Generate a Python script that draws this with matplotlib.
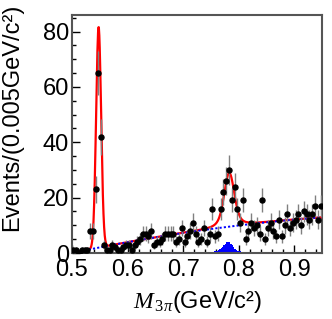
import numpy as np
import matplotlib
matplotlib.use("Agg")
import matplotlib.pyplot as plt

plt.rcParams['font.family'] = ['Liberation Sans', 'DejaVu Sans']
plt.rcParams['mathtext.fontset'] = 'custom'
plt.rcParams['mathtext.rm'] = 'Liberation Serif'
plt.rcParams['mathtext.it'] = 'Liberation Serif:italic'

# data: M(3pi) spectrum, 0.005 GeV bins from 0.50 to 0.95
bin_lo, bin_w = 0.50, 0.005
counts = [1, 1, 0, 1, 1, 1, 8, 8, 23, 65, 42, 3, 1, 1, 3, 2, 1, 1, 2, 3,
          3, 1, 3, 4, 5, 7, 7, 6, 8, 3, 4, 4, 5, 7, 7, 7, 7, 4, 5, 9,
          4, 6, 8, 11, 7, 4, 5, 9, 4, 7, 16, 6, 7, 16, 22, 26, 30, 19, 24, 16,
          11, 19, 5, 8, 11, 9, 10, 7, 19, 5, 9, 11, 8, 6, 12, 6, 10, 14, 9, 11,
          12, 14, 10, 15, 14, 12, 14, 17, 12, 17]

# MC peaking background (filled blue), 0.0025 GeV bins
omega_mc_edges = np.arange(0.730, 0.8251, 0.0025)
omega_mc = [0.1, 0.1, 0.2, 0.2, 0.2, 0.3,
            0.3, 0.4, 0.4, 0.5, 0.6, 0.7,
            0.9, 1.1, 1.4, 1.8, 2.3, 2.8,
            3.3, 3.8, 4.1, 3.9, 3.4, 2.8,
            2.2, 1.6, 1.2, 0.9, 0.7, 0.6,
            0.5, 0.4, 0.3, 0.3, 0.2, 0.2, 0.1, 0.1]
eta_mc_edges = np.arange(0.5425, 0.5526, 0.0025)
eta_mc = [0.2, 0.5, 0.4, 0.1]

# fit parameters
bkg_a, bkg_b = 42.1, -29.8          # b(u) = a*u + b*u^2, u = m - 0.5
eta_m, eta_sig, eta_amp = 0.5479, 0.0045, 79.7
omg_m, omg_sig, omg_gam, omg_amp = 0.7830, 0.0072, 0.0085, 19.4


def bkg(m):
    u = m - 0.5
    return bkg_a * u + bkg_b * u ** 2


def voigt(x, m0, sigma, gamma):
    t = np.linspace(-0.12, 0.12, 2401)
    bw = (gamma / 2 / np.pi) / (t ** 2 + (gamma / 2) ** 2)
    g = np.exp(-0.5 * ((x[:, None] - m0 - t[None, :]) / sigma) ** 2)
    v = (g * bw).sum(axis=1)
    return v / v.max()


fig = plt.figure(figsize=(3.32, 3.19), dpi=100)
ax = fig.add_axes([72 / 332, 66 / 319, 250 / 332, 238 / 319])

m = np.linspace(0.5, 0.95, 1200)
eta = eta_amp * np.exp(-0.5 * ((m - eta_m) / eta_sig) ** 2)
omg = omg_amp * voigt(m, omg_m, omg_sig, omg_gam)

ax.stairs(omega_mc, omega_mc_edges, fill=True, color='#0000ff', zorder=2)
ax.stairs(eta_mc, eta_mc_edges, fill=True, color='#0000ff', zorder=2)

ax.plot(m, bkg(m) + eta + omg, color='#ff0000', lw=1.6, zorder=3)
ax.plot(m, bkg(m), color='#0000ff', lw=1.4, ls=(0, (1.1, 1.1)), zorder=4)

y = np.array(counts, dtype=float)
x = bin_lo + bin_w * (np.arange(len(y)) + 0.5)
ax.errorbar(x, y, yerr=np.sqrt(y), fmt='o', color='black', ms=3.6,
            ecolor='#808080', elinewidth=1.0, capsize=0, zorder=5)

ax.set_xlim(0.5, 0.95)
ax.set_ylim(0, 86)
ax.set_xticks([0.5, 0.6, 0.7, 0.8, 0.9])
ax.set_xticklabels(['0.5', '0.6', '0.7', '0.8', '0.9'])
ax.set_xticks(np.arange(0.52, 0.95, 0.02), minor=True)
ax.set_yticks([0, 20, 40, 60, 80])
ax.set_yticks(np.arange(0, 86, 5), minor=True)
ax.tick_params(which='both', direction='in', top=False, right=False,
               labelsize=17, colors='black')
ax.tick_params(which='major', length=6, width=1.0)
ax.tick_params(which='minor', length=3, width=1.0)
ax.tick_params(axis='x', pad=4)
ax.tick_params(axis='y', pad=2)
for s in ax.spines.values():
    s.set_color('#555555')
    s.set_linewidth(1.5)

fig.text(12 / 332, 1 - 4 / 319, 'Events/(0.005GeV/c²)', rotation=90,
         ha='center', va='top', fontsize=17)
ax.set_xlabel(r'$\mathit{M}_{\,3\pi}$(GeV/c²)', fontsize=17, labelpad=6)

fig.savefig('out.png', dpi=100)
